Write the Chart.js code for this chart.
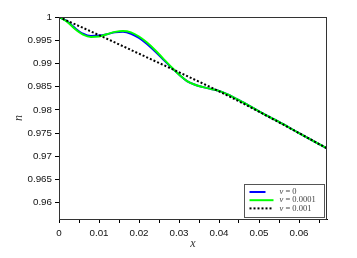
<!DOCTYPE html>
<html>
<head>
<meta charset="utf-8">
<script src="https://cdn.jsdelivr.net/npm/chart.js@4"></script>
<style>
  html, body { margin: 0; padding: 0; background: #fff; }
  #wrap { width: 357px; height: 258px; }
</style>
</head>
<body>
<div id="wrap"><canvas id="myChart" width="357" height="258"></canvas></div>
<script>
// ---- data ----
const xWave = [0, 0.002, 0.004, 0.006, 0.008, 0.010, 0.012, 0.014, 0.016, 0.018, 0.020, 0.022, 0.024, 0.026, 0.028, 0.030, 0.032, 0.034, 0.036, 0.038, 0.040, 0.042, 0.045, 0.050, 0.055, 0.060, 0.067];
const nu0 = [1, 0.9991, 0.9976, 0.9964, 0.9959, 0.9960, 0.9963, 0.9967, 0.9968, 0.9964, 0.9955, 0.9942, 0.9926, 0.9909, 0.9892, 0.9876, 0.9862, 0.9854, 0.9849, 0.9845, 0.9841, 0.9834, 0.9821, 0.9797, 0.9774, 0.9750, 0.9717];
const nu00001 = [1, 0.9990, 0.9974, 0.9962, 0.9957, 0.9958, 0.9963, 0.9968, 0.9970, 0.9967, 0.9958, 0.9945, 0.9929, 0.9911, 0.9893, 0.9876, 0.9862, 0.9854, 0.9849, 0.9845, 0.9841, 0.9834, 0.9821, 0.9797, 0.9774, 0.9750, 0.9717];
const xLine = [0, 0.01, 0.02, 0.03, 0.04, 0.05, 0.06, 0.067];
const nu0001 = [1, 0.9961, 0.9921, 0.9881, 0.9840, 0.9796, 0.9750, 0.9717];

const seriesLabels = ['\u03bd = 0', '\u03bd = 0.0001', '\u03bd = 0.001'];

const xTicks = [0, 0.01, 0.02, 0.03, 0.04, 0.05, 0.06];
const xTickLabels = ['0', '0.01', '0.02', '0.03', '0.04', '0.05', '0.06'];
const xMinorTicks = [0.005, 0.015, 0.025, 0.035, 0.045, 0.055, 0.065];
const yTicks = [0.96, 0.965, 0.97, 0.975, 0.98, 0.985, 0.99, 0.995, 1];
const yTickLabels = ['0.96', '0.965', '0.97', '0.975', '0.98', '0.985', '0.99', '0.995', '1'];

const pts = (xs, ys) => xs.map((x, i) => ({ x: x, y: ys[i] }));
const findLabel = (ticks, labels, v) => {
    const i = ticks.findIndex(t => Math.abs(t - v) < 1e-9);
    return i < 0 ? '' : labels[i];
};

const tickFont = { family: '"Liberation Sans", Arial, sans-serif', size: 9.8 };
const titleFont = { family: '"Liberation Serif", "DejaVu Serif", serif', size: 12, style: 'italic' };

// box round the plot + legend inside at bottom right
const frameAndLegend = {
    id: 'frameAndLegend',
    afterDraw(chart) {
        const c = chart.ctx, a = chart.chartArea;
        c.save();
        c.strokeStyle = '#333';
        c.lineWidth = 1;
        c.strokeRect(a.left + 0.5, a.top + 0.5, a.right - a.left - 1, a.bottom - a.top);
        // legend
        const w = 80, h = 33;
        const bx = Math.round(a.right - 3 - w) + 0.5, by = Math.round(a.bottom - 2 - h) + 0.5;
        c.fillStyle = '#fff';
        c.fillRect(bx, by, w, h);
        c.strokeStyle = '#555';
        c.strokeRect(bx, by, w, h);
        c.textBaseline = 'middle';
        [0, 1, 2].forEach((k, r) => {
            const ds = chart.data.datasets[k];
            const yy = by + 7.5 + r * 8.2;
            c.beginPath();
            c.strokeStyle = ds.borderColor;
            c.lineWidth = 2;
            c.setLineDash(ds.borderDash || []);
            c.moveTo(bx + 5, yy);
            c.lineTo(bx + (k === 0 ? 21 : 29), yy);
            c.stroke();
            c.setLineDash([]);
            c.fillStyle = '#444';
            // greek letter in italic, rest upright
            const sym = ds.label.charAt(0), rest = ds.label.slice(1);
            c.font = 'italic 8.5px "Liberation Serif", "DejaVu Serif", serif';
            c.fillText(sym, bx + 35, yy);
            const sw = c.measureText(sym).width;
            c.font = '8.5px "Liberation Serif", "DejaVu Serif", serif';
            c.fillText(rest, bx + 35 + sw, yy);
        });
        c.restore();
    }
};

const ctx = document.getElementById('myChart').getContext('2d');
const myChart = new Chart(ctx, {
    type: 'line',
    data: {
        datasets: [
            {
                label: seriesLabels[0],
                data: pts(xWave, nu0),
                borderColor: '#0000ff',
                borderWidth: 2,
                pointRadius: 0,
                cubicInterpolationMode: 'monotone',
                order: 3
            },
            {
                label: seriesLabels[1],
                data: pts(xWave, nu00001),
                borderColor: '#00ff00',
                borderWidth: 2,
                pointRadius: 0,
                cubicInterpolationMode: 'monotone',
                order: 2
            },
            {
                label: seriesLabels[2],
                data: pts(xLine, nu0001),
                borderColor: '#000000',
                borderWidth: 2,
                borderDash: [2, 2],
                pointRadius: 0,
                cubicInterpolationMode: 'monotone',
                order: 1
            }
        ]
    },
    options: {
        responsive: false,
        animation: false,
        layout: { padding: { top: 17, right: 30, left: 0, bottom: 0 } },
        plugins: { legend: { display: false }, tooltip: { enabled: false } },
        scales: {
            x: {
                type: 'linear',
                min: 0,
                max: 0.067,
                afterBuildTicks: s => {
                    s.ticks = xTicks.concat(xMinorTicks).sort((a, b) => a - b).map(v => ({ value: v }));
                },
                afterFit: s => { s.height = 39; },
                ticks: {
                    autoSkip: false,
                    maxRotation: 0,
                    padding: 4,
                    color: '#111',
                    font: tickFont,
                    callback: v => findLabel(xTicks, xTickLabels, v)
                },
                grid: { drawOnChartArea: false, drawTicks: true, tickLength: 4, color: '#000' },
                border: { color: '#000', width: 1 },
                title: { display: true, text: 'x', font: titleFont, color: '#333', padding: { top: 7, bottom: 7 } }
            },
            y: {
                type: 'linear',
                min: 0.9565,
                max: 1,
                afterBuildTicks: s => { s.ticks = yTicks.map(v => ({ value: v })); },
                afterFit: s => { s.width = 59; },
                ticks: {
                    autoSkip: false,
                    padding: 3,
                    color: '#111',
                    font: tickFont,
                    callback: v => findLabel(yTicks, yTickLabels, v)
                },
                grid: { drawOnChartArea: false, drawTicks: true, tickLength: 4, color: '#000' },
                border: { color: '#000', width: 1 },
                title: { display: true, text: 'n', font: titleFont, color: '#333', padding: { top: 12, bottom: 12 } }
            }
        }
    },
    plugins: [frameAndLegend]
});
</script>
</body>
</html>
